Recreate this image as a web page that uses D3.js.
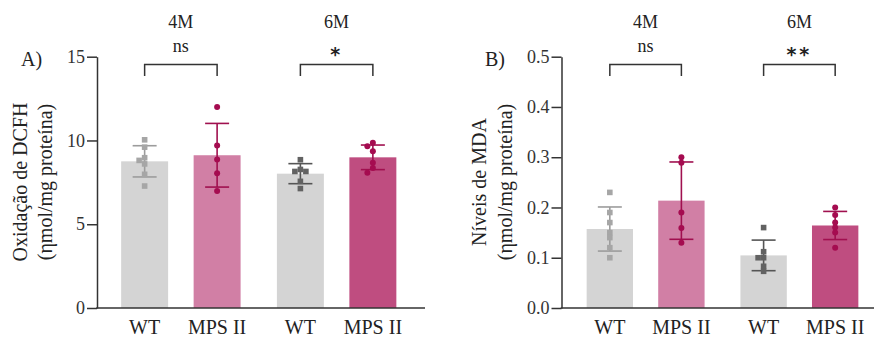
<!DOCTYPE html>
<html>
<head>
<meta charset="utf-8">
<script src="https://cdn.jsdelivr.net/npm/d3@7"></script>
<style>
  body { margin: 0; background: #fff; }
  svg { display: block; font-family: "Liberation Serif", "Times New Roman", serif; }
</style>
</head>
<body>
<div id="chart"></div>
<script>
// categories
const ages = ["4M", "6M"];
const genotypes = ["WT", "MPS II"];

// panel A: DCFH oxidation (individual animals)
const dcfhWT4M = [10.04, 9.6, 8.97, 8.81, 8.6, 7.98, 7.28];
const dcfhMPS4M = [12.0, 9.7, 8.87, 8.04, 6.98];
const dcfhWT6M = [8.85, 8.27, 8.15, 8.15, 7.56, 7.13];
const dcfhMPS6M = [9.86, 9.66, 9.35, 8.67, 8.35, 8.07];
const dcfhSig = ["ns", "*"];
const dcfhTicks = [0, 5, 10, 15];

// panel B: MDA levels
const mdaWT4M = [0.23, 0.19, 0.17, 0.15, 0.14, 0.12, 0.10];
const mdaMPS4M = [0.30, 0.289, 0.19, 0.159, 0.13];
const mdaWT6M = [0.16, 0.112, 0.10, 0.10, 0.083, 0.073];
const mdaMPS6M = [0.20, 0.185, 0.17, 0.16, 0.15, 0.12];
const mdaSig = ["ns", "**"];
const mdaTicks = [0, 0.1, 0.2, 0.3, 0.4, 0.5];

const W = 878, H = 339;
const svg = d3.select("#chart").append("svg")
    .attr("width", W)
    .attr("height", H);

const barFill = { "WT": "#d4d4d4", "MPS II 4M": "#d17fa5", "MPS II 6M": "#bf4d80" };
const dotColor = { "WT 4M": "#a6a6a6", "WT 6M": "#626262", "MPS II": "#a50c50" };
const errColor = { "WT 4M": "#9c9c9c", "WT 6M": "#555555", "MPS II": "#a0104f" };

// spread points sideways where they would overlap
function swarm(values, y) {
  const placed = [];
  const offsets = [0, -5.5, 5.5, -11, 11];
  values.slice().sort((a, b) => b - a).forEach(v => {
    const py = y(v);
    for (const dx of offsets) {
      const hit = placed.some(p => Math.hypot(p.dx - dx, p.py - py) < 5);
      if (!hit) { placed.push({ v: v, py: py, dx: dx }); break; }
    }
  });
  return placed;
}

function drawPanel(cfg) {
  const g = svg.append("g");

  const y = d3.scaleLinear().domain(cfg.domain).range([308, 56.7]);

  const x0 = d3.scaleBand().domain(ages)
      .range(cfg.bandRange).paddingInner(0.1).paddingOuter(0.0885);
  const x1 = d3.scaleBand().domain(genotypes)
      .range([0, x0.bandwidth()]).paddingInner(0.352).paddingOuter(0.143);

  const rows = [];
  ages.forEach((age, i) => {
    genotypes.forEach((gt, j) => {
      const vals = cfg.series[i][j];
      rows.push({
        age: age, gt: gt, vals: vals,
        mean: d3.mean(vals), sd: d3.deviation(vals),
        cx: x0(age) + x1(gt) + x1.bandwidth() / 2
      });
    });
  });

  // bars
  g.selectAll(".bar").data(rows).enter().append("rect")
      .attr("x", d => x0(d.age) + x1(d.gt))
      .attr("width", x1.bandwidth())
      .attr("y", d => y(d.mean))
      .attr("height", d => y(0) - y(d.mean))
      .attr("fill", d => d.gt === "WT" ? barFill["WT"] : barFill["MPS II " + d.age]);

  // error bars (mean ± SD)
  const cap = 12;
  rows.forEach(d => {
    const col = d.gt === "WT" ? errColor["WT " + d.age] : errColor["MPS II"];
    const top = y(d.mean + d.sd), bot = y(d.mean - d.sd);
    const eb = g.append("g").attr("stroke", col).attr("stroke-width", 1.6);
    eb.append("line").attr("x1", d.cx).attr("x2", d.cx).attr("y1", top).attr("y2", bot);
    eb.append("line").attr("x1", d.cx - cap).attr("x2", d.cx + cap).attr("y1", top).attr("y2", top);
    eb.append("line").attr("x1", d.cx - cap).attr("x2", d.cx + cap).attr("y1", bot).attr("y2", bot);
  });

  // individual points
  rows.forEach(d => {
    const pts = swarm(d.vals, y);
    if (d.gt === "WT") {
      g.selectAll(null).data(pts).enter().append("rect")
          .attr("x", p => d.cx + p.dx - 2.8)
          .attr("y", p => p.py - 2.8)
          .attr("width", 5.6).attr("height", 5.6)
          .attr("fill", dotColor["WT " + d.age]);
    } else {
      g.selectAll(null).data(pts).enter().append("circle")
          .attr("cx", p => d.cx + p.dx)
          .attr("cy", p => p.py)
          .attr("r", 3)
          .attr("fill", dotColor["MPS II"]);
    }
  });

  // axes
  const yAxis = g.append("g")
      .attr("transform", "translate(" + cfg.axisX + ",0)")
      .call(d3.axisLeft(y).tickValues(cfg.ticks).tickFormat(cfg.fmt)
        .tickSize(10).tickPadding(2).tickSizeOuter(0));
  yAxis.select(".domain").attr("stroke", "#333").attr("stroke-width", 1.5);
  yAxis.selectAll(".tick line").attr("stroke", "#333").attr("stroke-width", 1.5);
  yAxis.selectAll(".tick text")
      .attr("font-family", "Liberation Serif").attr("font-size", 18).attr("fill", "#333");

  g.append("line")
      .attr("x1", cfg.axisX - 0.75).attr("x2", cfg.axisEnd)
      .attr("y1", y(0)).attr("y2", y(0))
      .attr("stroke", "#333").attr("stroke-width", 1.5);

  // category labels
  g.selectAll(".xlab").data(rows).enter().append("text")
      .attr("x", d => d.cx).attr("y", 334)
      .attr("text-anchor", "middle")
      .attr("font-size", 20).attr("fill", "#222")
      .text(d => d.gt);

  // age headers, brackets and significance
  ages.forEach((age, i) => {
    const a = rows[i * 2].cx, b = rows[i * 2 + 1].cx;
    const mid = (a + b) / 2;
    g.append("text").attr("x", mid).attr("y", 28)
        .attr("text-anchor", "middle").attr("font-size", 18).attr("fill", "#222")
        .text(age);
    const s = cfg.sig[i];
    if (s === "ns") {
      g.append("text").attr("x", mid).attr("y", 52)
          .attr("text-anchor", "middle").attr("font-size", 18).attr("fill", "#222")
          .text(s);
    } else {
      g.append("text").attr("x", mid).attr("y", 61)
          .attr("text-anchor", "middle")
          .attr("font-family", "DejaVu Sans").attr("font-weight", "bold")
          .attr("font-size", 19).attr("letter-spacing", 3).attr("fill", "#222")
          .text(s);
    }
    g.append("path")
        .attr("d", "M" + a + ",76V64.5H" + b + "V76")
        .attr("fill", "none").attr("stroke", "#333").attr("stroke-width", 1.5);
  });

  // panel letter
  g.append("text").attr("x", cfg.letterX).attr("y", 66)
      .attr("font-size", 20).attr("fill", "#222").text(cfg.letter);

  // y title
  const t = g.append("text")
      .attr("transform", "translate(0,182) rotate(-90)")
      .attr("text-anchor", "middle").attr("font-size", 20).attr("fill", "#222");
  t.append("tspan").attr("x", 0).attr("y", cfg.titleX[0]).text(cfg.title[0]);
  t.append("tspan").attr("x", 0).attr("y", cfg.titleX[1]).text(cfg.title[1]);
}

drawPanel({
  letter: "A)", letterX: 21,
  domain: [0, 15], ticks: dcfhTicks, fmt: d3.format("d"),
  series: [[dcfhWT4M, dcfhMPS4M], [dcfhWT6M, dcfhMPS6M]],
  sig: dcfhSig,
  axisX: 97, axisEnd: 425, bandRange: [97, 420.5],
  title: ["Oxidação de DCFH", "(ηmol/mg proteína)"], titleX: [27, 52]
});

drawPanel({
  letter: "B)", letterX: 485,
  domain: [0, 0.5], ticks: mdaTicks, fmt: d3.format(".1f"),
  series: [[mdaWT4M, mdaMPS4M], [mdaWT6M, mdaMPS6M]],
  sig: mdaSig,
  axisX: 561.5, axisEnd: 874, bandRange: [562.8, 882.2],
  title: ["Níveis de MDA", "(ηmol/mg proteína)"], titleX: [486, 512]
});
</script>
</body>
</html>
